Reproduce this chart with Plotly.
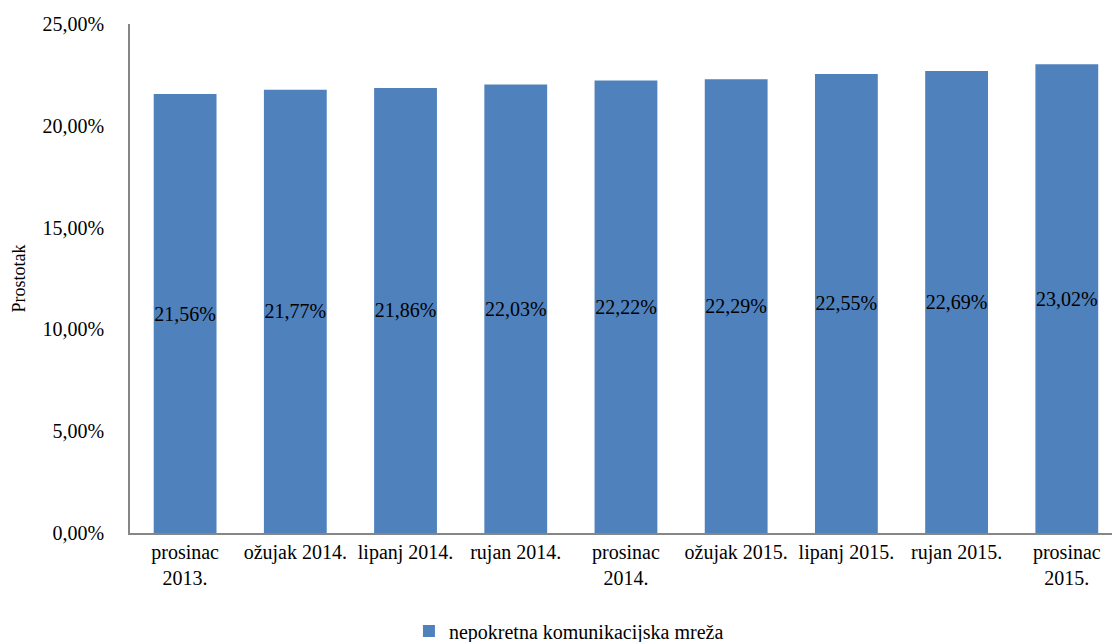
import plotly.graph_objects as go

categories = ["prosinac<br>2013.", "ožujak 2014.", "lipanj 2014.", "rujan 2014.",
              "prosinac<br>2014.", "ožujak 2015.", "lipanj 2015.", "rujan 2015.",
              "prosinac<br>2015."]
values = [21.56, 21.77, 21.86, 22.03, 22.22, 22.29, 22.55, 22.69, 23.02]
series_name = "nepokretna komunikacijska mreža"
y_ticks = [0, 5, 10, 15, 20, 25]
y_tick_labels = ["0,00%", "5,00%", "10,00%", "15,00%", "20,00%", "25,00%"]

labels = [f"{v:.2f}".replace(".", ",") + "%" for v in values]

FONT = "Liberation Serif, Times New Roman, serif"

fig = go.Figure()
fig.add_trace(go.Bar(
    x=list(range(len(categories))), y=values, name=series_name,
    marker=dict(color="#4F81BD", line=dict(width=0)),
    text=labels, textposition="inside", insidetextanchor="middle",
    constraintext="none", textangle=0,
    textfont=dict(family=FONT, size=20, color="black"),
    showlegend=True,
))

fig.update_layout(
    width=1112, height=642,
    margin=dict(l=130, r=0, t=24, b=109),
    paper_bgcolor="white", plot_bgcolor="white",
    font=dict(family=FONT, size=20, color="black"),
    bargap=0.43,
    showlegend=True,
    legend=dict(orientation="h", x=0.447, xanchor="center",
                yref="container", y=0.017, yanchor="middle",
                font=dict(family=FONT, size=20, color="black"),
                itemwidth=30),
    xaxis=dict(
        range=[-0.5, 8.41],
        tickvals=list(range(len(categories))), ticktext=categories,
        showline=True, linecolor="#868686", linewidth=1.5,
        showgrid=False, zeroline=False, ticks="",
        automargin=False,
        tickfont=dict(family=FONT, size=20, color="black"),
    ),
    yaxis=dict(
        range=[0, 25], tickvals=y_ticks, ticktext=y_tick_labels,
        showline=True, linecolor="#868686", linewidth=1.5,
        showgrid=False, zeroline=False, ticks="",
        ticklabelstandoff=20,
        tickfont=dict(family=FONT, size=20, color="black"),
        title=dict(text="Prostotak", font=dict(family=FONT, size=18, color="black"), standoff=12),
    ),
)

fig.write_html("out.html", config={"displayModeBar": False},
               post_script="document.body.style.margin='0';")
